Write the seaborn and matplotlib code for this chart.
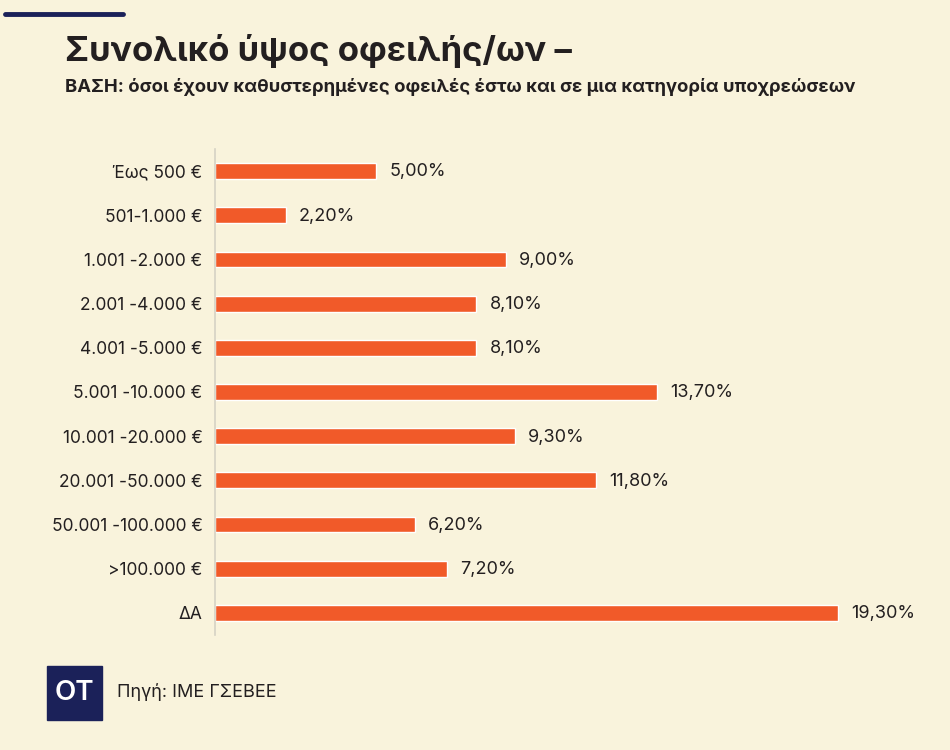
import matplotlib
matplotlib.use("Agg")
import matplotlib.pyplot as plt
import matplotlib.patches as mpatches
import seaborn as sns
import pandas as pd

# chart data
categories = ["Έως 500 €", "501-1.000 €", "1.001 -2.000 €", "2.001 -4.000 €",
              "4.001 -5.000 €", "5.001 -10.000 €", "10.001 -20.000 €",
              "20.001 -50.000 €", "50.001 -100.000 €", ">100.000 €", "ΔΑ"]
values = [5.00, 2.20, 9.00, 8.10, 8.10, 13.70, 9.30, 11.80, 6.20, 7.20, 19.30]

title = "Συνολικό ύψος οφειλής/ων –"
subtitle = "ΒΑΣΗ: όσοι έχουν καθυστερημένες οφειλές έστω και σε μια κατηγορία υποχρεώσεων"
source = "Πηγή: ΙΜΕ ΓΣΕΒΕΕ"

bg = "#F9F3DC"
orange = "#F15A29"
navy = "#1B2159"
ink = "#231F20"

sns.set_theme(style="white")
plt.rcParams["font.family"] = ["Inter", "DejaVu Sans"]

df = pd.DataFrame({"cat": categories, "val": values})

fig = plt.figure(figsize=(9.5, 7.5), dpi=100, facecolor=bg)
ax = fig.add_axes([215 / 950, 1 - 635 / 750, 685 / 950, 486 / 750])
ax.set_facecolor(bg)

sns.barplot(data=df, x="val", y="cat", color=orange, width=0.36,
            saturation=1, ax=ax, orient="h")

ax.set_xlim(0, 19.3 * 685 / 623)
ax.set_ylim(10.5, -0.5)
ax.set_xlabel("")
ax.set_ylabel("")
ax.set_xticks([])
for s in ["top", "right", "bottom"]:
    ax.spines[s].set_visible(False)
ax.spines["left"].set_color("#D6D2C4")
ax.spines["left"].set_linewidth(1.2)
ax.tick_params(axis="y", length=0, pad=9, labelsize=12.5, labelcolor=ink)

# value labels, greek decimal comma
for i, v in enumerate(values):
    ax.text(v + 0.4, i + 0.02, f"{v:.2f}".replace(".", ",") + "%", va="center",
            ha="left", fontsize=13, color=ink)

# header
fig.add_artist(plt.Line2D([5 / 950, 123 / 950], [1 - 14 / 750] * 2,
                          color=navy, lw=3.5))
fig.text(65 / 950, 1 - 51 / 750, title, fontsize=25, fontweight="bold",
         color=ink, va="center", ha="left")
fig.text(65 / 950, 1 - 87 / 750, subtitle, fontsize=13.3, fontweight="bold",
         color=ink, va="center", ha="left")

# footer logo + source
fig.add_artist(mpatches.Rectangle((47 / 950, 1 - 720 / 750), 55 / 950, 54 / 750,
                                  transform=fig.transFigure, color=navy))
fig.text(74.5 / 950, 1 - 693 / 750, "OT", fontsize=20, color="white",
         fontweight="semibold", ha="center", va="center")
fig.text(117 / 950, 1 - 692 / 750, source, fontsize=13, color=ink,
         ha="left", va="center")

fig.savefig("out.png", dpi=100, facecolor=bg)
